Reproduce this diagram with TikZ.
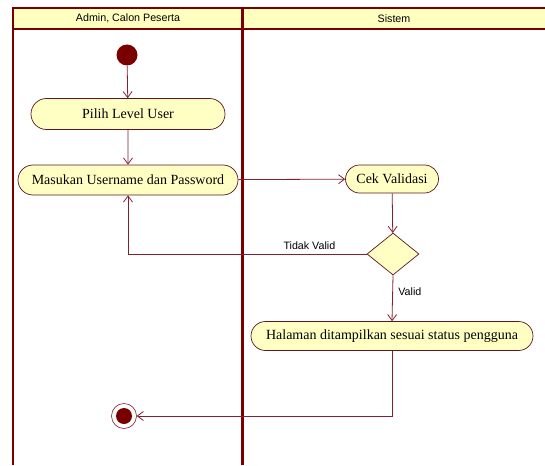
\documentclass[tikz,border=0pt]{standalone}
\usepackage{fontspec}
\setmainfont{Liberation Serif}
\newfontfamily\lanefont{Liberation Sans}
\usetikzlibrary{arrows.meta,shapes.geometric,shapes.misc}
\definecolor{lanered}{HTML}{7A0000}
\definecolor{flowred}{HTML}{802030}
\definecolor{actfill}{HTML}{FFFFC4}
\definecolor{headfill}{HTML}{FFFFC0}
\tikzset{
  lane/.style={draw=lanered, line width=2pt},
  lanehead/.style={font=\lanefont\fontsize{10.7}{12}\selectfont},
  act/.style={rounded rectangle, draw=flowred!70!black, fill=actfill,
    line width=0.7pt, inner sep=0pt, font=\fontsize{14}{16}\selectfont},
  decision/.style={diamond, draw=flowred!70!black, fill=actfill, line width=0.7pt,
    inner sep=0pt, minimum width=52pt, minimum height=42pt},
  startnode/.style={circle, fill=lanered, inner sep=0pt, minimum size=21pt},
  endnode/.style={circle, draw=flowred, line width=0.6pt, inner sep=0pt,
    minimum size=25pt, path picture={\fill[lanered] (path picture bounding box.center) circle (8pt);}},
  flow/.style={draw=flowred, line width=0.8pt, -{Straight Barb[length=6pt,width=9pt]}},
  guard/.style={font=\lanefont\fontsize{10.7}{12}\selectfont}
}
\begin{document}
\begin{tikzpicture}[x=1pt,y=-1pt]
  \useasboundingbox (0,0) rectangle (545,465);
  % swimlanes
  \fill[headfill] (13,8) rectangle (545,29);
  \draw[lane] (545,8) -- (13,8) -- (13,465);
  \draw[lane, line width=1.5pt] (13,29) -- (545,29);
  \draw[lane, line width=3pt] (242,8) -- (242,465);
  \node[lanehead] (lane1) at (128,18.5) {Admin, Calon Peserta};
  \node[lanehead] (lane2) at (394,18.5) {Sistem};
  % activities
  \draw
    (127,55) node[startnode] (start){}
    (128,114) node[act, minimum width=194pt, minimum height=31pt] (pilih){Pilih Level User}
    (128,180) node[act, minimum width=220pt, minimum height=30pt] (masuk){Masukan Username dan Password}
    (392,179) node[act, minimum width=93pt, minimum height=28pt] (cek){Cek Validasi}
    (393,254) node[decision] (valid){}
    (392,336) node[act, minimum width=282pt, minimum height=29pt] (tampil){Halaman ditampilkan sesuai status pengguna}
    (124,416) node[endnode] (stop){};
  \begin{scope}[flow]
    \draw (start) to (pilih);
    \draw (pilih) to (masuk);
    \draw (masuk) to (cek);
    \draw (cek) to (valid);
    \draw (valid.west) -| node[guard, pos=0.12, above=1pt]{Tidak Valid} (masuk.south);
    \draw (valid.south) to node[guard, right=2pt, pos=0.35]{Valid} (tampil.north);
    \draw (tampil.south) |- (stop.east);
  \end{scope}
\end{tikzpicture}
\end{document}
